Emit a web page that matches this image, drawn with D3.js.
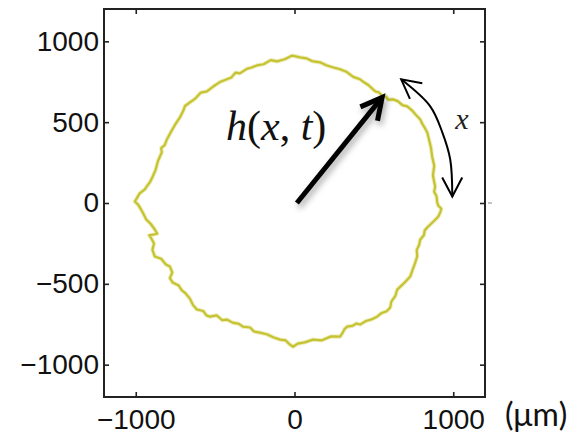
<!DOCTYPE html>
<html><head><meta charset="utf-8">
<script src="https://cdn.jsdelivr.net/npm/d3@7"></script>
<style>html,body{margin:0;padding:0;background:#fff;}</style>
</head><body>
<svg id="chart" width="580" height="436"></svg>
<script>
// Front contour (µm), going round from the top
const ringX = [35,-15,-62,-110,-150,-195,-237,-270,-300,-344,-372,-398,-426,-470,-510,-552,-590,-625,-659,-690,-700,-722,-752,-775,-804,-818,-840,-836,-860,-875,-893,-910,-925,-943,-975,-990,-1006,-985,-970,-956,-935,-905,-880,-865,-915,-905,-885,-895,-880,-840,-810,-785,-770,-785,-767,-730,-710,-691,-660,-640,-615,-575,-555,-533,-490,-455,-426,-390,-350,-325,-280,-255,-218,-175,-130,-91,-55,-30,-9,20,65,117,170,230,287,305,315,331,365,390,413,450,485,520,550,580,603,610,635,647,680,700,729,745,760,773,770,785,792,815,820,836,880,905,918,925,905,899,895,880,886,872,880,867,860,848,836,820,805,792,765,738,710,680,650,621,590,575,558,530,510,495,465,440,413,370,330,287,240,200,161,110,75,35];
const ringY = [901,912,889,876,884,858,851,838,830,802,806,776,765,748,722,690,683,646,622,600,572,529,485,445,393,358,340,313,260,205,164,130,110,84,60,35,9,-10,-35,-59,-100,-130,-164,-190,-200,-214,-250,-290,-331,-345,-380,-393,-430,-465,-492,-510,-540,-554,-590,-630,-659,-668,-695,-703,-695,-725,-721,-740,-748,-765,-770,-795,-802,-812,-832,-845,-850,-875,-889,-870,-862,-845,-850,-825,-827,-800,-780,-765,-760,-745,-752,-730,-720,-703,-680,-670,-647,-610,-575,-536,-505,-485,-455,-410,-370,-331,-290,-260,-226,-200,-170,-152,-110,-85,-59,-35,-15,3,40,70,102,170,230,288,340,390,437,465,490,517,545,575,598,605,630,641,640,660,659,685,690,703,730,745,765,780,810,827,840,852,870,878,895,901];

const xTicks = [-1000, 0, 1000];
const yTicks = [-1000, -500, 0, 500, 1000];
const domain = [-1200, 1200];

// annotation anchors (µm)
const radiusArrow = [[15, 0], [552, 653]];
const arcArrow = [[672, 765], [855, 598], [931, 437], [981, 269], [994, 40]];

const svg = d3.select("#chart");
const L = 104, R = 485, T = 9, B = 397;
const x = d3.scaleLinear().domain(domain).range([L, R]);
const y = d3.scaleLinear().domain(domain).range([B, T]);
const fmt = d3.format("d");

const defs = svg.append("defs");
const f = defs.append("filter").attr("id","shadow").attr("x","-30%").attr("y","-30%").attr("width","160%").attr("height","160%");
f.append("feDropShadow").attr("dx",2).attr("dy",4).attr("stdDeviation",3).attr("flood-color","#000").attr("flood-opacity",0.35);

defs.append("marker").attr("id","headThick").attr("markerUnits","userSpaceOnUse")
  .attr("orient","auto").attr("refX",0).attr("refY",0)
  .attr("markerWidth",60).attr("markerHeight",60).attr("viewBox","-30 -30 60 60")
  .style("overflow","visible")
  .append("path").attr("d","M-21,-11 L0,0 L-21,11").attr("fill","none")
  .attr("stroke","#000").attr("stroke-width",5).attr("stroke-linejoin","miter");

defs.append("marker").attr("id","headThin").attr("markerUnits","userSpaceOnUse")
  .attr("orient","auto-start-reverse").attr("refX",0).attr("refY",0)
  .attr("markerWidth",60).attr("markerHeight",60).attr("viewBox","-30 -30 60 60")
  .style("overflow","visible")
  .append("path").attr("d","M-19,-10 L0,0 L-19,10").attr("fill","none")
  .attr("stroke","#000").attr("stroke-width",2).attr("stroke-linejoin","miter");

// contour
const pts = ringX.map((v,i)=>[v, ringY[i]]);
const ringLine = d3.line().x(d=>x(d[0])).y(d=>y(d[1]));
svg.append("path").datum(pts).attr("d", ringLine)
  .attr("fill","none").attr("stroke","#d8d66a").attr("stroke-width",4.2)
  .attr("stroke-opacity",0.45).attr("stroke-linejoin","round");
svg.append("path").datum(pts).attr("d", ringLine)
  .attr("fill","none").attr("stroke","#c6c332").attr("stroke-width",2.2)
  .attr("stroke-linejoin","round");

// axes
const fontTick = "'Liberation Sans', Arial, sans-serif";
const gx = svg.append("g").attr("transform",`translate(0,${B})`)
  .call(d3.axisBottom(x).tickValues(xTicks).tickSize(-5).tickPadding(12).tickFormat(fmt));
const gxt = svg.append("g").attr("transform",`translate(0,${T})`)
  .call(d3.axisTop(x).tickValues(xTicks).tickSize(-5).tickFormat(""));
const gy = svg.append("g").attr("transform",`translate(${L},0)`)
  .call(d3.axisLeft(y).tickValues(yTicks).tickSize(-5).tickPadding(5).tickFormat(fmt));
const gyr = svg.append("g").attr("transform",`translate(${R},0)`)
  .call(d3.axisRight(y).tickValues(yTicks).tickSize(-5).tickFormat(""));
[gx,gxt,gy,gyr].forEach(g=>{
  g.select(".domain").remove();
  g.selectAll(".tick line").attr("stroke","#222").attr("stroke-width",1.6);
  g.selectAll("text").attr("font-family",fontTick).attr("font-size",28).attr("fill","#111");
});

svg.append("rect").attr("x",L).attr("y",T).attr("width",R-L).attr("height",B-T)
  .attr("fill","none").attr("stroke","#222").attr("stroke-width",2);
svg.append("line").attr("x1",R+3).attr("x2",R+7).attr("y1",y(0)).attr("y2",y(0))
  .attr("stroke","#888").attr("stroke-width",1);

// unit label
svg.append("text").attr("x",505).attr("y",426).attr("font-family","Lato, 'Noto Sans', sans-serif")
  .attr("font-size",32).attr("fill","#111").text("(μm)");

// radius arrow
svg.append("line").attr("x1",x(radiusArrow[0][0])).attr("y1",y(radiusArrow[0][1]))
  .attr("x2",x(radiusArrow[1][0])).attr("y2",y(radiusArrow[1][1]))
  .attr("stroke","#000").attr("stroke-width",5).attr("marker-end","url(#headThick)")
  .attr("filter","url(#shadow)");

// arc arrow
svg.append("path").datum(arcArrow)
  .attr("d", d3.line().x(d=>x(d[0])).y(d=>y(d[1])).curve(d3.curveCatmullRom))
  .attr("fill","none").attr("stroke","#000").attr("stroke-width",2)
  .attr("marker-start","url(#headThin)").attr("marker-end","url(#headThin)");

// labels
const serif = "'Liberation Serif','Times New Roman',serif";
const h = svg.append("text").attr("x",226).attr("y",140).attr("font-family",serif)
  .attr("font-size",42).attr("fill","#111");
h.append("tspan").attr("font-style","italic").text("h");
h.append("tspan").text("(");
h.append("tspan").attr("font-style","italic").text("x");
h.append("tspan").text(", ");
h.append("tspan").attr("font-style","italic").text("t");
h.append("tspan").text(")");

svg.append("text").attr("x",462).attr("y",129).attr("text-anchor","middle")
  .attr("font-family",serif).attr("font-style","italic").attr("font-size",30)
  .attr("fill","#222").text("x");
</script>
</body></html>
